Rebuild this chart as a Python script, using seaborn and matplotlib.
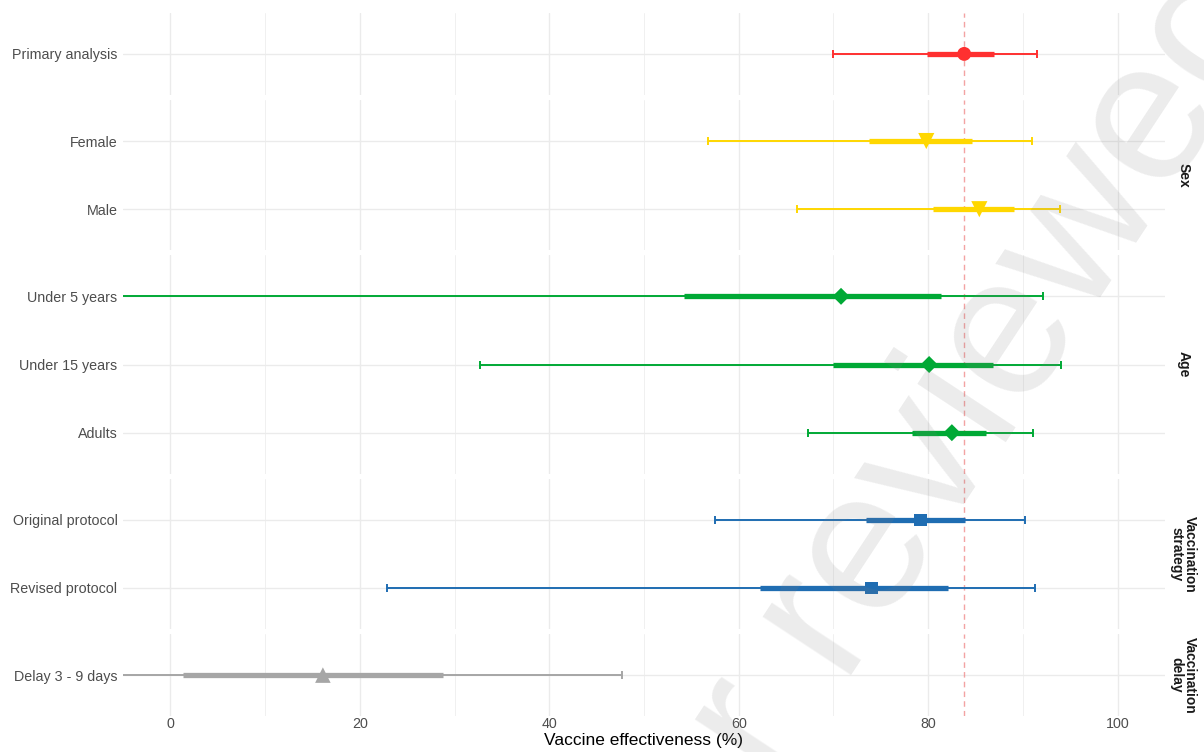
import numpy as np
import pandas as pd
import matplotlib
matplotlib.use("Agg")
import matplotlib.pyplot as plt
import seaborn as sns

# ---------------- data ----------------
labels = ["Primary analysis", "Female", "Male", "Under 5 years", "Under 15 years",
          "Adults", "Original protocol", "Revised protocol", "Delay 3 - 9 days"]
groups = ["Primary", "Sex", "Sex", "Age", "Age", "Age",
          "Vaccination\nstrategy", "Vaccination\nstrategy", "Vaccination\ndelay"]
estimate = [83.8, 79.8, 85.4, 70.8, 80.1, 82.5, 79.2, 74.0, 16.1]
ci95_low = [69.9, 56.8, 66.2, -30.0, 32.7, 67.3, 57.5, 22.9, -15.0]
ci95_high = [91.5, 91.0, 93.9, 92.1, 94.0, 91.1, 90.2, 91.3, 47.7]
ci_in_low = [79.9, 73.8, 80.5, 54.2, 69.9, 78.3, 73.4, 62.2, 1.3]
ci_in_high = [87.0, 84.6, 89.1, 81.4, 86.8, 86.1, 83.9, 82.1, 28.8]
reference_ve = 83.8

group_order = ["Primary", "Sex", "Age", "Vaccination\nstrategy", "Vaccination\ndelay"]
strip_text = {"Primary": "", "Sex": "Sex", "Age": "Age",
              "Vaccination\nstrategy": "Vaccination\nstrategy",
              "Vaccination\ndelay": "Vaccination\ndelay"}
group_colors = {"Primary": "#FF3030", "Sex": "#FFD700", "Age": "#00A935",
                "Vaccination\nstrategy": "#1F6DB2", "Vaccination\ndelay": "#A6A6A6"}
group_markers = {"Primary": "o", "Sex": "v", "Age": "D",
                 "Vaccination\nstrategy": "s", "Vaccination\ndelay": "^"}
group_sizes = {"Primary": 100, "Sex": 135, "Age": 75,
               "Vaccination\nstrategy": 80, "Vaccination\ndelay": 125}

x_ticks = [0, 20, 40, 60, 80, 100]
x_minor = [10, 30, 50, 70, 90]

df = pd.DataFrame({"label": labels, "group": groups, "est": estimate,
                   "lo": ci95_low, "hi": ci95_high,
                   "lo_in": ci_in_low, "hi_in": ci_in_high})

# ---------------- style ----------------
sns.set_theme(style="whitegrid")
plt.rcParams["font.family"] = ["Liberation Sans", "DejaVu Sans"]

fig = plt.figure(figsize=(12.04, 7.52), dpi=100)
counts = [int((df["group"] == g).sum()) for g in group_order]
ratios = [c - 1 + 1.2 for c in counts]
gs = fig.add_gridspec(len(group_order), 1, height_ratios=ratios,
                      left=123 / 1204, right=1165 / 1204,
                      top=1 - 13 / 752, bottom=1 - 716 / 752, hspace=0.039)

axes = []
for i, g in enumerate(group_order):
    ax = fig.add_subplot(gs[i, 0])
    axes.append(ax)
    sub = df[df["group"] == g].reset_index(drop=True)
    sub["pos"] = np.arange(len(sub))
    col = group_colors[g]

    ax.set_facecolor("white")
    for s in ax.spines.values():
        s.set_visible(False)

    ax.axvline(reference_ve, color="#F08C8C", lw=1.0, ls=(0, (4, 3)), zorder=1.5, alpha=0.8)

    ax.errorbar(x=sub["est"], y=sub["pos"],
                xerr=[sub["est"] - sub["lo"], sub["hi"] - sub["est"]],
                fmt="none", ecolor=col, elinewidth=1.4, capsize=3, capthick=1.4, zorder=2)
    ax.hlines(sub["pos"], sub["lo_in"], sub["hi_in"], color=col, lw=3.8, zorder=3)
    sns.scatterplot(data=sub, x="est", y="pos", marker=group_markers[g], color=col,
                    s=group_sizes[g], edgecolor="none", linewidth=0, ax=ax, zorder=4,
                    legend=False)

    ax.set_xlim(-5, 105)
    ax.set_ylim(len(sub) - 1 + 0.6, -0.6)
    ax.set_yticks(sub["pos"])
    ax.set_yticklabels(sub["label"])
    ax.set_xticks(x_ticks)
    ax.set_xticks(x_minor, minor=True)
    ax.grid(which="major", color="#EBEBEB", lw=1.0)
    ax.grid(which="minor", axis="x", color="#F0F0F0", lw=0.7)
    ax.tick_params(axis="both", which="both", length=0, labelsize=10.3,
                   labelcolor="#4D4D4D")
    ax.tick_params(axis="y", pad=4)
    ax.set_ylabel("")
    ax.set_xlabel("")
    if i < len(group_order) - 1:
        ax.tick_params(axis="x", labelbottom=False)
    else:
        ax.tick_params(axis="x", pad=1)
        ax.set_xlabel("Vaccine effectiveness (%)", fontsize=12.5, color="black", labelpad=1)

    ax.text(1.0175, 0.5, strip_text[g], transform=ax.transAxes, rotation=-90,
            ha="center", va="center", multialignment="center",
            fontsize=10, fontweight="bold", color="#1A1A1A", linespacing=0.95)

# watermark
fig.text(1.034, 1.02, "Preprint not peer reviewed", rotation=56.6, rotation_mode="anchor",
         ha="right", va="center", fontsize=145, color="#808080", alpha=0.15,
         family="Liberation Sans", zorder=10)

fig.savefig("out.png", dpi=100, facecolor="white")
